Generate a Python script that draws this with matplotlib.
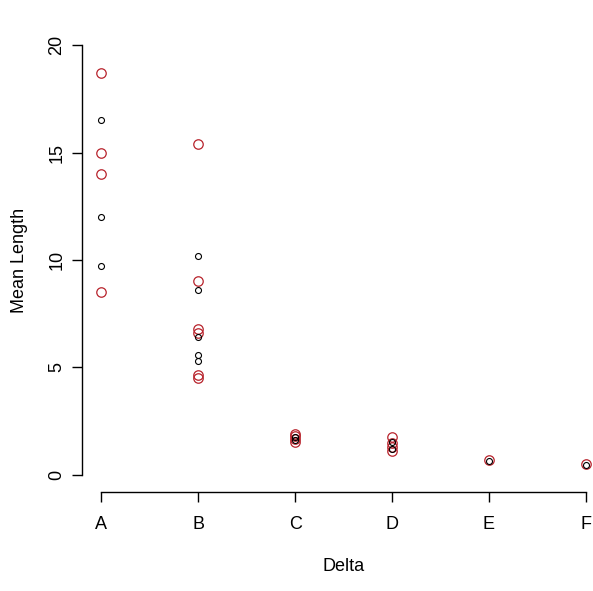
import matplotlib
matplotlib.use("Agg")
import matplotlib.pyplot as plt

categories = ['A', 'B', 'C', 'D', 'E', 'F']
black_cat = ['A', 'A', 'A', 'B', 'B', 'B', 'B', 'B', 'C', 'C', 'D', 'D', 'E', 'F']
black_val = [16.5, 12.0, 9.7, 10.2, 8.6, 6.4, 5.6, 5.3, 1.75, 1.6, 1.55, 1.2, 0.65, 0.48]
red_cat = ['A', 'A', 'A', 'A', 'B', 'B', 'B', 'B', 'B', 'B',
           'C', 'C', 'C', 'C', 'D', 'D', 'D', 'D', 'E', 'F']
red_val = [18.7, 15.0, 14.0, 8.5, 15.4, 9.0, 6.8, 6.6, 4.65, 4.5,
           1.9, 1.8, 1.65, 1.55, 1.75, 1.5, 1.3, 1.1, 0.68, 0.5]
y_ticks = [0, 5, 10, 15, 20]

plt.rcParams['font.family'] = ['Liberation Sans', 'DejaVu Sans']

W, H = 593, 591
fig = plt.figure(figsize=(W / 100, H / 100), dpi=100)
left, right, bottom, top = 82, 605, 492, 28
ax = fig.add_axes([left / W, (H - bottom) / H, (right - left) / W, (bottom - top) / H])

pos = {c: i + 1 for i, c in enumerate(categories)}
ax.plot([pos[c] for c in red_cat], red_val, linestyle='none', marker='o',
        markersize=6.8, markerfacecolor='none', markeredgecolor='#B8232C',
        markeredgewidth=0.9)
ax.plot([pos[c] for c in black_cat], black_val, linestyle='none', marker='o',
        markersize=4.3, markerfacecolor='none', markeredgecolor='black',
        markeredgewidth=0.8)

ax.set_xlim(0.8, 6.2)
ax.set_ylim(-0.8, 20.8)
ax.set_xticks(range(1, len(categories) + 1))
ax.set_xticklabels(categories)
ax.set_yticks(y_ticks)
ax.set_yticklabels([str(t) for t in y_ticks], rotation=90, va='center')

for s in ['top', 'right']:
    ax.spines[s].set_visible(False)
ax.spines['left'].set_bounds(0, 20)
ax.spines['bottom'].set_bounds(1, 6)
for s in ['left', 'bottom']:
    ax.spines[s].set_linewidth(1.0)
ax.tick_params(axis='both', length=7, width=1.0, labelsize=13, colors='black')
ax.tick_params(axis='x', pad=10.5)
ax.tick_params(axis='y', pad=5)

ax.set_xlabel('Delta', fontsize=13, labelpad=18)
ax.set_ylabel('Mean Length', fontsize=13, labelpad=15)

fig.savefig('out.png', dpi=100, facecolor='white')
